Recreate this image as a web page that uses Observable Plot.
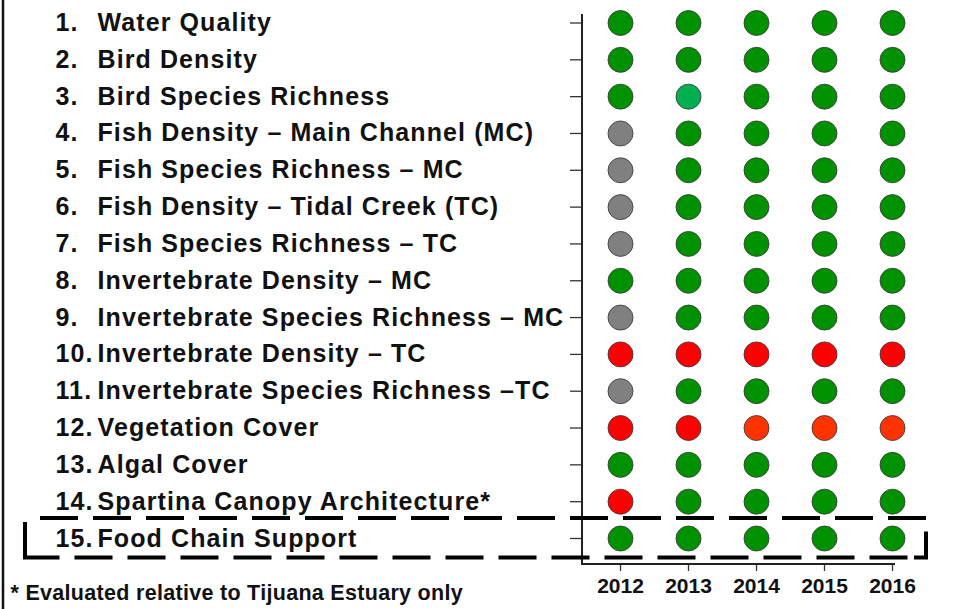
<!DOCTYPE html>
<html>
<head>
<meta charset="utf-8">
<script src="https://cdn.jsdelivr.net/npm/d3@7"></script>
<script src="https://cdn.jsdelivr.net/npm/@observablehq/plot@0.6"></script>
<style>
  html, body { margin: 0; padding: 0; background: #fff; }
  #chart svg { display: block; font-family: "Liberation Sans", Arial, sans-serif; }
  .rowlab text { font-weight: bold; letter-spacing: 1.1px; }
  .foot text { font-weight: bold; letter-spacing: 0.3px; }
  g[aria-label="x-axis tick label"] text { font-weight: bold; }
</style>
</head>
<body>
<div id="chart"></div>
<script>
const years = ["2012", "2013", "2014", "2015", "2016"];
const rowNums = ["1.", "2.", "3.", "4.", "5.", "6.", "7.", "8.", "9.", "10.", "11.", "12.", "13.", "14.", "15."];
const rowNames = [
  "Water Quality",
  "Bird Density",
  "Bird Species Richness",
  "Fish Density \u2013 Main Channel (MC)",
  "Fish Species Richness \u2013 MC",
  "Fish Density \u2013 Tidal Creek (TC)",
  "Fish Species Richness \u2013 TC",
  "Invertebrate Density \u2013 MC",
  "Invertebrate Species Richness \u2013 MC",
  "Invertebrate Density \u2013 TC",
  "Invertebrate Species Richness \u2013TC",
  "Vegetation Cover",
  "Algal Cover",
  "Spartina Canopy Architecture*",
  "Food Chain Support"
];
// status per indicator (rows 1..15) for each year
const status2012 = ["good","good","good","na","na","na","na","good","na","poor","na","poor","good","poor","good"];
const status2013 = ["good","good","near","good","good","good","good","good","good","poor","good","poor","good","good","good"];
const status2014 = ["good","good","good","good","good","good","good","good","good","poor","good","fair","good","good","good"];
const status2015 = ["good","good","good","good","good","good","good","good","good","poor","good","fair","good","good","good"];
const status2016 = ["good","good","good","good","good","good","good","good","good","poor","good","fair","good","good","good"];
const statusKeys = ["good", "near", "na", "poor", "fair"];
const statusColors = ["#009100", "#00b050", "#808080", "#ff0000", "#ff3300"];
const footnote = "* Evaluated relative to Tijuana Estuary only";

const byYear = [status2012, status2013, status2014, status2015, status2016];
const cells = [];
years.forEach((yr, i) => byYear[i].forEach((s, j) => cells.push({year: yr, row: rowNums[j], status: s})));
const rows = rowNums.map((n, i) => ({row: n, name: rowNames[i]}));

const W = 974, H = 609, mL = 582, mR = 79, mT = 14, mB = 45;

const chart = Plot.plot({
  width: W,
  height: H,
  marginLeft: mL,
  marginRight: mR,
  marginTop: mT,
  marginBottom: mB,
  x: {type: "point", domain: years, range: [620, 892], padding: 0, round: false},
  y: {type: "point", domain: rowNums, range: [22.5, 538], padding: 0, round: false},
  color: {domain: statusKeys, range: statusColors},
  marks: [
    Plot.axisY({tickSize: 12, tickFormat: () => "", label: null, strokeWidth: 1.3, stroke: "#333"}),
    Plot.axisX({tickSize: 7, tickPadding: 7, fontSize: 21, label: null, strokeWidth: 1.3, stroke: "#333", fill: "#111"}),
    Plot.dot(cells, {x: "year", y: "row", fill: "status", r: 12.5, stroke: "#3a3a3a", strokeWidth: 1, strokeOpacity: 0.85}),
    Plot.text(rows, {y: "row", text: "row", frameAnchor: "left", textAnchor: "start", dx: 55 - mL, fontSize: 25, fill: "#111", className: "rowlab"}),
    Plot.text(rows, {y: "row", text: "name", frameAnchor: "left", textAnchor: "start", dx: 97 - mL, fontSize: 25, fill: "#111", className: "rowlab"}),
    Plot.text([footnote], {text: d => d, frameAnchor: "bottom-left", textAnchor: "start", dx: 10 - mL, dy: 35, fontSize: 21.5, fill: "#111", className: "foot"})
  ]
});

document.getElementById("chart").appendChild(chart);

const svg = d3.select(chart);
// axis lines along the left and bottom of the frame
svg.append("path").attr("fill", "none").attr("stroke", "#222").attr("stroke-width", 2)
  .attr("d", `M${mL},${mT}V${H - mB}H${W - mR}`);

// decorations: left page border and dashed box around the last indicator
const ys = chart.scale("y");
const xs = chart.scale("x");
const yc = ys.apply(rowNums[rowNums.length - 1]);
const boxTop = yc - 20, boxBot = yc + 19.5;
const boxLeft = 25, boxRight = xs.apply(years[years.length - 1]) + 34;
svg.append("line").attr("x1", 3).attr("x2", 3).attr("y1", 0).attr("y2", H)
  .attr("stroke", "#111").attr("stroke-width", 2.5);
const g = svg.append("g").attr("fill", "none").attr("stroke", "#000").attr("stroke-width", 4);
g.append("path").attr("d", `M${boxRight},${boxTop}H${boxLeft + 4}`).attr("stroke-dasharray", "38,15");
g.append("path").attr("d", `M${boxLeft},${boxTop + 4}V${boxBot}H${boxRight - 12}`).attr("stroke-dasharray", "70,15,38,15,38,15,38,15,38,15,38,15,38,15,38,15,38,15,38,15,38,15,38,15,38,15,38,15,38,15,38,15,38,15,38,15,38,15");
g.append("path").attr("d", `M${boxRight - 12},${boxBot}H${boxRight}V${boxBot - 26}`);
</script>
</body>
</html>
